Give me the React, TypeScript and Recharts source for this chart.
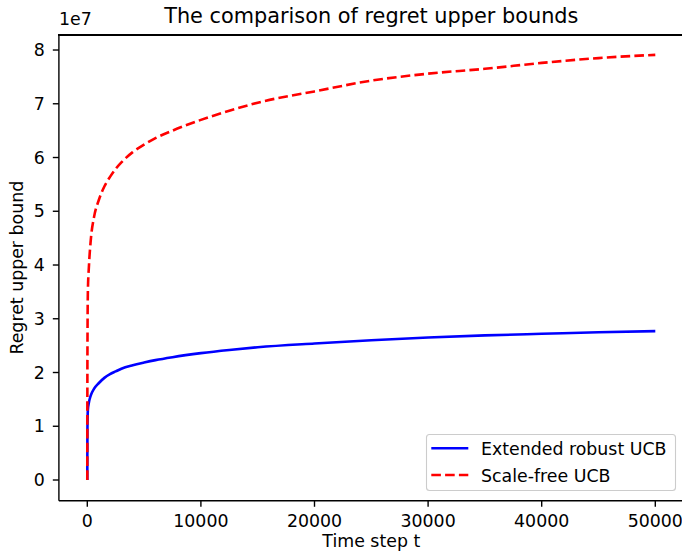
import { Label, Legend, Line, LineChart, XAxis, YAxis } from 'recharts';

const FONT = '"DejaVu Sans", sans-serif';
const TICK_FONT = 17.36;
const SCALE = 1e7;

// time steps on the x axis
const timeSteps = [
  0, 10, 50, 150, 300, 600, 1000, 1500, 2000, 2500, 3000, 4000, 5000, 6000,
  7500, 10000, 12500, 15000, 20000, 25000, 30000, 35000, 40000, 45000, 50000,
];
// regret upper bounds, in units of 1e7
const robustUcb = [
  0, 0.9, 1.3, 1.45, 1.57, 1.7, 1.8, 1.9, 1.97, 2.02, 2.07, 2.135, 2.185, 2.23,
  2.285, 2.36, 2.42, 2.47, 2.54, 2.6, 2.65, 2.69, 2.72, 2.75, 2.77,
];
const scaleFreeUcb = [
  0, 2.2, 3.5, 4.0, 4.45, 4.9, 5.2, 5.46, 5.64, 5.79, 5.91, 6.1, 6.24, 6.36,
  6.5, 6.7, 6.87, 7.02, 7.23, 7.43, 7.56, 7.65, 7.76, 7.85, 7.91,
];

const xTicks = [0, 10000, 20000, 30000, 40000, 50000];
const yTicks = [0, 1, 2, 3, 4, 5, 6, 7, 8];
const xRange = [-2500, 52500];
const yRange = [-0.385, 8.285];

const series = [
  { key: 'robust', name: 'Extended robust UCB', color: '#0000ff', dash: undefined },
  { key: 'scaleFree', name: 'Scale-free UCB', color: '#ff0000', dash: '9.6 4.2' },
];

const rows = timeSteps.map((t, i) => ({
  t,
  robust: robustUcb[i] * SCALE,
  scaleFree: scaleFreeUcb[i] * SCALE,
}));

const PLOT_LEFT = 58.9;
const PLOT_TOP = 34.7;

const axisStroke = { stroke: '#000', strokeWidth: 1.39 };
const tickStyle = { fill: '#000', fontSize: TICK_FONT, fontFamily: FONT };

const renderLegend = (props: any) => {
  const payload = props.payload || [];
  return (
    <svg width={250} height={57} style={{ display: 'block', overflow: 'visible' }}>
      <rect
        x={0.5}
        y={0.5}
        width={249}
        height={56}
        rx={3}
        fill="rgba(255,255,255,0.8)"
        stroke="#cccccc"
        strokeWidth={1.1}
      />
      {payload.map((entry: any, i: number) => {
        const s = series.find((x) => x.key === entry.dataKey) || series[i];
        const cy = 14.3 + i * 26.7;
        return (
          <g key={s.key}>
            <line
              x1={5.3}
              x2={42.3}
              y1={cy}
              y2={cy}
              stroke={s.color}
              strokeWidth={2.6}
              strokeDasharray={s.dash}
            />
            <text
              x={55}
              y={cy + 6.6}
              fontSize={TICK_FONT}
              fontFamily={FONT}
              fill="#000"
            >
              {s.name}
            </text>
          </g>
        );
      })}
    </svg>
  );
};

export default function App() {
  return (
    <div
      style={{
        position: 'fixed',
        left: 0,
        top: 0,
        width: 682,
        height: 552,
        overflow: 'hidden',
        background: '#fff',
        fontFamily: FONT,
      }}
    >
      <div
        style={{
          position: 'absolute',
          left: 371.3,
          top: 5.8,
          transform: 'translateX(-50%)',
          whiteSpace: 'nowrap',
          fontSize: 20.83,
          lineHeight: '20.83px',
          color: '#000',
        }}
      >
        The comparison of regret upper bounds
      </div>
      <div
        style={{
          position: 'absolute',
          left: 59,
          top: 11,
          whiteSpace: 'nowrap',
          fontSize: TICK_FONT,
          lineHeight: `${TICK_FONT}px`,
          color: '#000',
        }}
      >
        1e7
      </div>
      <LineChart
        width={700}
        height={552}
        data={rows}
        margin={{ top: PLOT_TOP, right: 16.3, bottom: 21.3, left: PLOT_LEFT - 50 }}
      >
        <XAxis
          dataKey="t"
          type="number"
          domain={xRange}
          ticks={xTicks}
          interval={0}
          height={30}
          axisLine={axisStroke}
          tickLine={axisStroke}
          tickSize={6.08}
          tickMargin={8}
          tick={tickStyle}
        >
          <Label
            value="Time step t"
            position="bottom"
            offset={4}
            style={{ fill: '#000', fontSize: TICK_FONT, fontFamily: FONT }}
          />
        </XAxis>
        <YAxis
          type="number"
          domain={[yRange[0] * SCALE, yRange[1] * SCALE]}
          ticks={yTicks.map((v) => v * SCALE)}
          interval={0}
          width={50}
          axisLine={axisStroke}
          tickLine={axisStroke}
          tickSize={6.08}
          tickMargin={8}
          tick={tickStyle}
          tickFormatter={(v: number) => String(Math.round(v / SCALE))}
        >
          <Label
            value="Regret upper bound"
            angle={-90}
            position="insideLeft"
            offset={8.3}
            style={{
              textAnchor: 'middle',
              fill: '#000',
              fontSize: TICK_FONT,
              fontFamily: FONT,
            }}
          />
        </YAxis>
        <Legend
          layout="vertical"
          align="center"
          verticalAlign="middle"
          content={renderLegend}
          wrapperStyle={{ left: 425.7, top: 434, width: 250, height: 57 }}
        />
        {series.map((s) => (
          <Line
            key={s.key}
            dataKey={s.key}
            name={s.name}
            type="monotone"
            stroke={s.color}
            strokeWidth={2.6}
            strokeDasharray={s.dash}
            dot={false}
            activeDot={false}
            isAnimationActive={false}
          />
        ))}
      </LineChart>
      {/* top spine of the axes frame, drawn last so nothing covers it */}
      <div
        style={{
          position: 'absolute',
          left: PLOT_LEFT - 0.7,
          top: PLOT_TOP - 1,
          width: 640,
          height: 2,
          background: '#000',
          zIndex: 10,
        }}
      />
    </div>
  );
}
